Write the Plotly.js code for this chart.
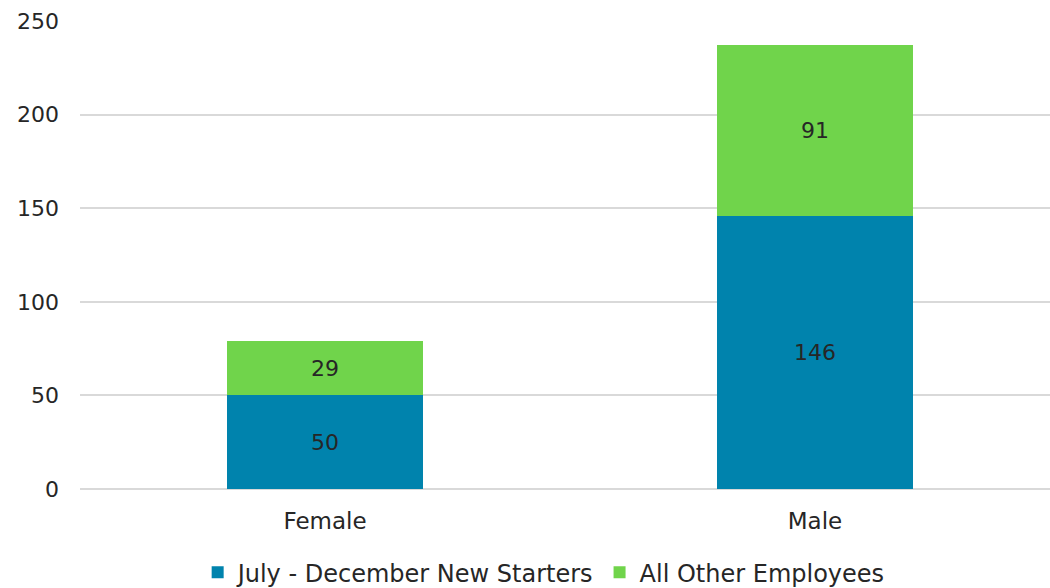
<!DOCTYPE html>
<html>
<head>
<meta charset="utf-8">
<script src="https://cdn.plot.ly/plotly-3.0.1.min.js"></script>
<style>html,body{margin:0;padding:0;background:#fff;}#chart{width:1050px;height:588px;}</style>
</head>
<body>
<div id="chart"></div>
<script>
const categories = ["Female", "Male"];
const newStarters = [50, 146];
const otherEmployees = [29, 91];
const seriesNames = ["July - December New Starters", "All Other Employees"];
const yTicks = [0, 50, 100, 150, 200, 250];

const FONT = "DejaVu Sans, sans-serif";
const TXT = "#262626";

const traces = [
  {
    type: "bar", name: seriesNames[0], x: categories, y: newStarters,
    marker: {color: "#0083AD"},
    text: newStarters.map(String), textposition: "inside", insidetextanchor: "middle",
    textfont: {family: FONT, size: 22, color: TXT}, hoverinfo: "none"
  },
  {
    type: "bar", name: seriesNames[1], x: categories, y: otherEmployees,
    marker: {color: "#70D44B"},
    text: otherEmployees.map(String), textposition: "inside", insidetextanchor: "middle",
    textfont: {family: FONT, size: 22, color: TXT}, hoverinfo: "none"
  }
];

const layout = {
  width: 1050, height: 588,
  margin: {l: 80, r: 0, t: 21, b: 99, autoexpand: false},
  barmode: "stack", bargap: 0.6,
  paper_bgcolor: "#fff", plot_bgcolor: "#fff",
  font: {family: FONT, size: 22, color: TXT},
  showlegend: true,
  legend: {orientation: "h", x: 0.478, xanchor: "center", y: -0.179, yanchor: "middle",
           font: {family: FONT, size: 24, color: TXT}, traceorder: "normal"},
  xaxis: {range: [-0.5, 1.4796], showgrid: false, zeroline: false, showline: false, automargin: false,
          ticks: "", ticklabelstandoff: 16, tickfont: {family: FONT, size: 23, color: TXT}, fixedrange: true},
  yaxis: {range: [0, 250], tickvals: yTicks, showgrid: true, gridcolor: "#d9d9d9", gridwidth: 2,
          zeroline: true, zerolinecolor: "#d9d9d9", zerolinewidth: 2, showline: false, ticks: "", automargin: false,
          ticklabelstandoff: 20, tickfont: {family: FONT, size: 22, color: TXT}, fixedrange: true}
};

Plotly.newPlot("chart", traces, layout, {displayModeBar: false, staticPlot: true});
</script>
</body>
</html>
